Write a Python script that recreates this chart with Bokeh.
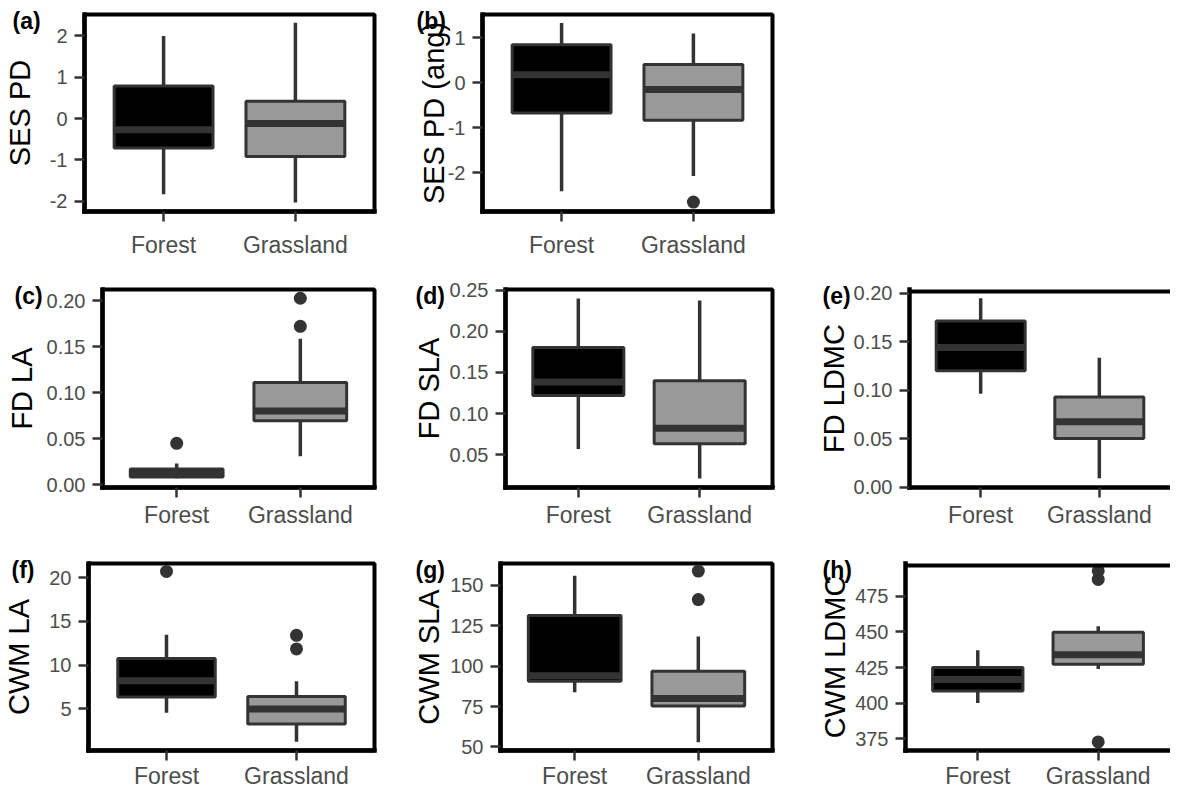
from bokeh.plotting import figure
from bokeh.models import (FactorRange, Range1d, FixedTicker, Span, ColumnDataSource)
from bokeh.layouts import column, row
from bokeh.embed import file_html
from bokeh.resources import INLINE

CATS = ["Forest", "Grassland"]
FILLS = ["#000000", "#999999"]

# (a) SES PD
a_low = [-1.83, -2.03]
a_q1 = [-0.71, -0.92]
a_med = [-0.27, -0.12]
a_q3 = [0.79, 0.42]
a_high = [2.00, 2.32]
a_out_cat = []
a_out_val = []
a_ticks = [-2, -1, 0, 1, 2]
a_labels = ["-2", "-1", "0", "1", "2"]
a_range = [-2.25, 2.52]

# (b) SES PD (ang)
b_low = [-2.41, -2.07]
b_q1 = [-0.67, -0.83]
b_med = [0.18, -0.15]
b_q3 = [0.85, 0.41]
b_high = [1.33, 1.10]
b_out_cat = ["Grassland"]
b_out_val = [-2.65]
b_ticks = [-2, -1, 0, 1]
b_labels = ["-2", "-1", "0", "1"]
b_range = [-2.86, 1.52]

# (c) FD LA
c_low = [0.007, 0.031]
c_q1 = [0.0085, 0.0695]
c_med = [0.012, 0.080]
c_q3 = [0.017, 0.111]
c_high = [0.023, 0.1586]
c_out_cat = ["Forest", "Grassland", "Grassland"]
c_out_val = [0.045, 0.172, 0.2025]
c_ticks = [0.0, 0.05, 0.1, 0.15, 0.2]
c_labels = ["0.00", "0.05", "0.10", "0.15", "0.20"]
c_range = [-0.003, 0.212]

# (d) FD SLA
d_low = [0.057, 0.021]
d_q1 = [0.122, 0.0633]
d_med = [0.1385, 0.082]
d_q3 = [0.1805, 0.140]
d_high = [0.240, 0.2376]
d_out_cat = []
d_out_val = []
d_ticks = [0.05, 0.1, 0.15, 0.2, 0.25]
d_labels = ["0.05", "0.10", "0.15", "0.20", "0.25"]
d_range = [0.010, 0.251]

# (e) FD LDMC
e_low = [0.0964, 0.009]
e_q1 = [0.120, 0.050]
e_med = [0.144, 0.0675]
e_q3 = [0.1714, 0.093]
e_high = [0.195, 0.1336]
e_out_cat = []
e_out_val = []
e_ticks = [0.0, 0.05, 0.1, 0.15, 0.2]
e_labels = ["0.00", "0.05", "0.10", "0.15", "0.20"]
e_range = [-0.0005, 0.204]

# (f) CWM LA
f_low = [4.53, 1.23]
f_q1 = [6.34, 3.26]
f_med = [8.22, 4.98]
f_q3 = [10.76, 6.41]
f_high = [13.48, 8.15]
f_out_cat = ["Forest", "Grassland", "Grassland"]
f_out_val = [20.72, 11.85, 13.41]
f_ticks = [5, 10, 15, 20]
f_labels = ["5", "10", "15", "20"]
f_range = [0.22, 21.63]

# (g) CWM SLA
g_low = [83.8, 52.9]
g_q1 = [90.6, 75.4]
g_med = [94.0, 80.0]
g_q3 = [131.4, 96.9]
g_high = [155.9, 118.4]
g_out_cat = ["Grassland", "Grassland"]
g_out_val = [141.2, 158.8]
g_ticks = [50, 75, 100, 125, 150]
g_labels = ["50", "75", "100", "125", "150"]
g_range = [47.8, 163.5]

# (h) CWM LDMC
h_low = [400.1, 423.9]
h_q1 = [408.6, 427.4]
h_med = [416.6, 434.0]
h_q3 = [425.0, 449.7]
h_high = [437.2, 453.9]
h_out_cat = ["Grassland", "Grassland", "Grassland"]
h_out_val = [372.8, 486.8, 492.8]
h_ticks = [375, 400, 425, 450, 475]
h_labels = ["375", "400", "425", "450", "475"]
h_range = [366.8, 498.0]

FONT = "Liberation Sans"
DARK = "#333333"


def make_panel(tag, ylabel, low, q1, med, q3, high, out_cat, out_val,
               ticks, labels, yr, w, h, bl, br, bt, bb, tag_dx, lab_off, xstand,
               right_border=True):
    p = figure(x_range=FactorRange(*CATS, range_padding=0.1, range_padding_units="absolute"),
               y_range=Range1d(yr[0], yr[1]), width=w, height=h, title=tag,
               output_backend="svg", toolbar_location=None,
               min_border_left=bl, min_border_right=br,
               min_border_top=bt, min_border_bottom=bb)
    p.xgrid.visible = False
    p.ygrid.visible = False
    p.background_fill_color = "white"
    p.border_fill_color = "white"
    if right_border:
        p.outline_line_color = "black"
        p.outline_line_width = 4
    else:
        p.outline_line_color = None
        p.add_layout(Span(location=yr[1], dimension="width", line_color="black",
                          line_width=8))

    p.title.align = "left"
    p.title.offset = tag_dx
    p.title.text_font = FONT
    p.title.text_font_size = "23px"
    p.title.text_font_style = "bold"
    p.title.text_color = "black"
    p.title.vertical_align = "bottom"
    p.title.standoff = -38

    src = ColumnDataSource(dict(cat=CATS, low=low, q1=q1, med=med, q3=q3,
                                high=high, fill=FILLS))
    p.segment(x0="cat", y0="q3", x1="cat", y1="high", source=src,
              line_color=DARK, line_width=3.5)
    p.segment(x0="cat", y0="q1", x1="cat", y1="low", source=src,
              line_color=DARK, line_width=3.5)
    p.vbar(x="cat", width=0.75, bottom="q1", top="q3", source=src,
           fill_color="fill", line_color=DARK, line_width=3)
    p.rect(x="cat", y="med", width=0.75, height=7, height_units="screen",
           source=src, fill_color=DARK, line_color=None)
    if out_val:
        p.scatter(x=out_cat, y=out_val, size=13, fill_color=DARK, line_color=None)

    for ax in (p.xaxis[0], p.yaxis[0]):
        ax.axis_line_width = 4.5
        ax.axis_line_color = "black"
        ax.axis_line_cap = "square"
        ax.major_tick_line_width = 2.5
        ax.major_tick_line_color = DARK
        ax.major_tick_out = 10
        ax.major_tick_in = 0
        ax.minor_tick_line_color = None
        ax.major_label_text_color = "#4d4d4d"
        ax.major_label_text_font = FONT
    p.xaxis.major_label_text_font_size = "23px"
    p.xaxis.major_label_standoff = xstand
    p.yaxis.major_label_text_font_size = "20px"
    p.yaxis.major_label_standoff = 7
    p.yaxis.ticker = FixedTicker(ticks=ticks)
    p.yaxis.major_label_overrides = {t: l for t, l in zip(ticks, labels)}
    p.yaxis.axis_label = ylabel
    p.yaxis.axis_label_text_font = FONT
    p.yaxis.axis_label_text_font_size = "29px"
    p.yaxis.axis_label_text_font_style = "normal"
    p.yaxis.axis_label_text_color = "black"
    p.yaxis.axis_label_standoff = lab_off
    return p


pa = make_panel("(a)", "SES PD", a_low, a_q1, a_med, a_q3, a_high, a_out_cat, a_out_val,
                a_ticks, a_labels, a_range, 395, 270, 80, 21, 14, 59, -72, 11, 10)
pb = make_panel("(b)", "SES PD (ang)", b_low, b_q1, b_med, b_q3, b_high, b_out_cat, b_out_val,
                b_ticks, b_labels, b_range, 395, 270, 87, 18, 14, 59, -66, -5, 10)
pc = make_panel("(c)", "FD LA", c_low, c_q1, c_med, c_q3, c_high, c_out_cat, c_out_val,
                c_ticks, c_labels, c_range, 395, 270, 102, 21, 19, 53, -88, 6, 4)
pd_ = make_panel("(d)", "FD SLA", d_low, d_q1, d_med, d_q3, d_high, d_out_cat, d_out_val,
                 d_ticks, d_labels, d_range, 395, 270, 110, 18, 19, 53, -90, 2, 4)
pe = make_panel("(e)", "FD LDMC", e_low, e_q1, e_med, e_q3, e_high, e_out_cat, e_out_val,
                e_ticks, e_labels, e_range, 380, 270, 119, 0, 19, 53, -87, 1, 4,
                right_border=False)
pf = make_panel("(f)", "CWM LA", f_low, f_q1, f_med, f_q3, f_high, f_out_cat, f_out_val,
                f_ticks, f_labels, f_range, 395, 251, 84, 21, 23, 38, -77, 11, 2)
pg = make_panel("(g)", "CWM SLA", g_low, g_q1, g_med, g_q3, g_high, g_out_cat, g_out_val,
                g_ticks, g_labels, g_range, 395, 251, 105, 18, 23, 38, -85, 2, 2)
ph = make_panel("(h)", "CWM LDMC", h_low, h_q1, h_med, h_q3, h_high, h_out_cat, h_out_val,
                h_ticks, h_labels, h_range, 380, 251, 115, 0, 23, 38, -83, 1, 2,
                right_border=False)

layout = column(row(pa, pb), row(pc, pd_, pe), row(pf, pg, ph))

open("out.html", "w").write(file_html(layout, INLINE))
